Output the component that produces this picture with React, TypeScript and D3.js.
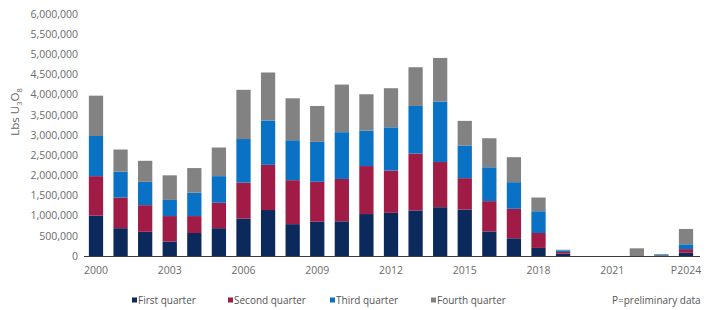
import React, { useEffect, useRef } from 'react'
import * as d3 from 'd3'

const years = d3.range(2000, 2025).map(String)
const yearLabels = years.map((y) => (y === '2024' ? 'P2024' : y))
const shownYears = ['2000', '2003', '2006', '2009', '2012', '2015', '2018', '2021', '2024']

// pounds U3O8 per quarter
const q1 = [1000000, 690000, 600000, 360000, 570000, 690000, 930000, 1140000, 790000, 850000, 860000, 1040000, 1070000, 1130000, 1210000, 1150000, 610000, 440000, 200000, 60000, 0, 0, 0, 10000, 80000]
const q2 = [980000, 760000, 660000, 630000, 420000, 630000, 890000, 1120000, 1090000, 990000, 1050000, 1190000, 1050000, 1410000, 1120000, 780000, 750000, 730000, 370000, 40000, 0, 0, 0, 0, 90000]
const q3 = [995000, 640000, 580000, 400000, 580000, 660000, 1080000, 1100000, 990000, 990000, 1160000, 880000, 1070000, 1180000, 1500000, 810000, 840000, 660000, 540000, 40000, 0, 0, 0, 20000, 120000]
const q4 = [1000000, 550000, 520000, 610000, 610000, 710000, 1220000, 1190000, 1040000, 890000, 1180000, 900000, 970000, 960000, 1080000, 610000, 720000, 620000, 340000, 15000, 0, 0, 190000, 20000, 380000]

const seriesNames = ['First quarter', 'Second quarter', 'Third quarter', 'Fourth quarter']
const seriesColors = ['#0b2a5b', '#a01c47', '#0a72c4', '#828282']
const yTicks = d3.range(0, 6000001, 500000)

const width = 707
const height = 310

export default function App() {
  const ref = useRef<SVGSVGElement>(null)

  useEffect(() => {
    const svg = d3.select(ref.current)
    svg.selectAll('*').remove()
    const font = "'Open Sans', sans-serif"

    const rows = years.map((y, i) => ({ year: y, q1: q1[i], q2: q2[i], q3: q3[i], q4: q4[i] }))
    const keys = ['q1', 'q2', 'q3', 'q4']
    const stacked = d3.stack().keys(keys)(rows as any)

    const x = d3.scaleBand().domain(years).range([83.7, 698.3]).paddingInner(0.42).paddingOuter(0.21)
    const y = d3.scaleLinear().domain([0, 6000000]).range([256, 14])

    const color = d3.scaleOrdinal<string>().domain(keys).range(seriesColors)

    svg
      .append('g')
      .selectAll('g')
      .data(stacked)
      .join('g')
      .attr('fill', (d) => color(d.key))
      .selectAll('rect')
      .data((d) => d)
      .join('rect')
      .attr('x', (d: any) => x(d.data.year)!)
      .attr('width', x.bandwidth())
      .attr('y', (d) => y(d[1]))
      .attr('height', (d) => Math.max(0, y(d[0]) - y(d[1])))

    // y tick labels, no axis line
    svg
      .append('g')
      .selectAll('text')
      .data(yTicks)
      .join('text')
      .attr('x', 78)
      .attr('y', (d) => y(d))
      .attr('dy', '0.35em')
      .attr('text-anchor', 'end')
      .attr('font-family', font)
      .attr('font-size', 10.5)
      .attr('fill', '#6b6b6b')
      .text((d) => d3.format(',')(d))

    // baseline
    svg
      .append('line')
      .attr('x1', 84)
      .attr('x2', 700)
      .attr('y1', y(0) + 0.5)
      .attr('y2', y(0) + 0.5)
      .attr('stroke', '#3a3a3a')
      .attr('stroke-width', 1.2)

    svg
      .append('g')
      .selectAll('text')
      .data(shownYears)
      .join('text')
      .attr('x', (d) => x(d)! + x.bandwidth() / 2)
      .attr('y', 274)
      .attr('text-anchor', 'middle')
      .attr('font-family', font)
      .attr('font-size', 10.5)
      .attr('fill', '#6b6b6b')
      .text((d) => yearLabels[years.indexOf(d)])

    // y axis title
    const title = svg
      .append('text')
      .attr('transform', 'translate(19,112) rotate(-90)')
      .attr('text-anchor', 'middle')
      .attr('font-family', font)
      .attr('font-size', 11.5)
      .attr('fill', '#666')
    title.append('tspan').text('Lbs U')
    title.append('tspan').attr('font-size', 7.5).attr('dy', 3).text('3')
    title.append('tspan').attr('dy', -3).text('O')
    title.append('tspan').attr('font-size', 7.5).attr('dy', 3).text('8')

    // legend
    const legendX = [132, 228, 330, 431]
    const lg = svg
      .append('g')
      .selectAll('g')
      .data(seriesNames)
      .join('g')
      .attr('transform', (d, i) => `translate(${legendX[i]},301)`)
    lg.append('rect')
      .attr('x', 0)
      .attr('y', -3.5)
      .attr('width', 5)
      .attr('height', 5)
      .attr('fill', (d, i) => seriesColors[i])
    lg.append('text')
      .attr('x', 6)
      .attr('dy', '0.3em')
      .attr('font-family', font)
      .attr('font-size', 10)
      .attr('fill', '#555')
      .text((d) => d)

    svg
      .append('text')
      .attr('x', 612)
      .attr('y', 301)
      .attr('dy', '0.3em')
      .attr('font-family', font)
      .attr('font-size', 10)
      .attr('fill', '#555')
      .text('P=preliminary data')
  }, [])

  return (
    <svg
      ref={ref}
      width={width}
      height={height}
      style={{ position: 'absolute', left: 0, top: 0, background: '#fff' }}
    />
  )
}
